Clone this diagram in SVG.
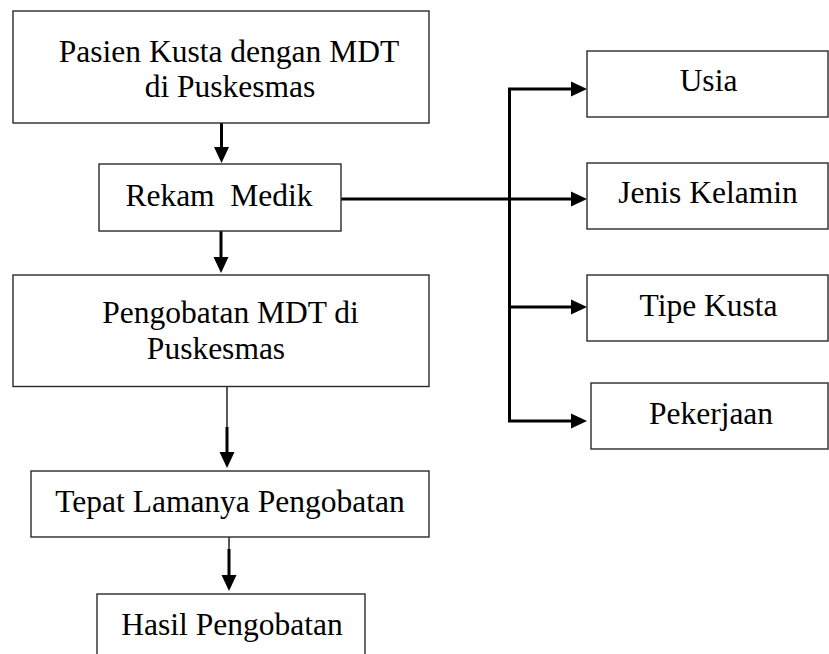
<svg xmlns="http://www.w3.org/2000/svg" width="829" height="654" viewBox="0 0 829 654">
  <style>
    .box { fill: #ffffff; stroke: #2a2a2a; stroke-width: 1.4; }
    .lbl { font-family: 'Liberation Serif', 'DejaVu Serif', serif; font-size: 31.5px; fill: #000000; text-anchor: middle; }
    .thick { stroke: #000000; stroke-width: 3; fill: none; }
    .thin { stroke: #000000; stroke-width: 1.3; fill: none; }
  </style>
  <defs>
    <marker id="ah" markerUnits="userSpaceOnUse" markerWidth="16" markerHeight="16" viewBox="0 0 16 16" refX="8" refY="8" orient="auto">
      <path d="M0,0.5 L16,8 L0,15.5 z" fill="#000000"/>
    </marker>
  </defs>
  <rect width="829" height="654" fill="#ffffff"/>

  <g id="connectors">
    <line class="thick" x1="221.5" y1="123" x2="221.5" y2="155" marker-end="url(#ah)"/>
    <line class="thick" x1="221" y1="231" x2="221" y2="265" marker-end="url(#ah)"/>
    <line class="thin" x1="227" y1="387" x2="227" y2="428"/>
    <line class="thick" x1="227" y1="427" x2="227" y2="460" marker-end="url(#ah)"/>
    <line class="thin" x1="229" y1="537" x2="229" y2="550"/>
    <line class="thick" x1="229" y1="549" x2="229" y2="583" marker-end="url(#ah)"/>
    <line class="thick" x1="341" y1="199" x2="579" y2="199" marker-end="url(#ah)"/>
    <line class="thick" x1="509.5" y1="89" x2="509.5" y2="421"/>
    <line class="thick" x1="508" y1="89" x2="579" y2="89" marker-end="url(#ah)"/>
    <line class="thick" x1="508" y1="307" x2="579" y2="307" marker-end="url(#ah)"/>
    <line class="thick" x1="508" y1="421" x2="579" y2="421" marker-end="url(#ah)"/>
  </g>

  <g id="pasien">
    <rect class="box" x="13" y="11" width="416" height="112"/>
    <text class="lbl" x="229" y="62">Pasien Kusta dengan MDT</text>
    <text class="lbl" x="230" y="97">di Puskesmas</text>
  </g>
  <g id="rekam">
    <rect class="box" x="99" y="164" width="242" height="67"/>
    <text class="lbl" x="219" y="206" xml:space="preserve">Rekam  Medik</text>
  </g>
  <g id="pengobatan">
    <rect class="box" x="13" y="275" width="416" height="111.5"/>
    <text class="lbl" x="230.5" y="323">Pengobatan MDT di</text>
    <text class="lbl" x="216" y="359">Puskesmas</text>
  </g>
  <g id="tepat">
    <rect class="box" x="31" y="471" width="398" height="66"/>
    <text class="lbl" x="230" y="512">Tepat Lamanya Pengobatan</text>
  </g>
  <g id="hasil">
    <rect class="box" x="97" y="594" width="268" height="70"/>
    <text class="lbl" x="232" y="635">Hasil Pengobatan</text>
  </g>
  <g id="usia">
    <rect class="box" x="587" y="51" width="241" height="66"/>
    <text class="lbl" x="708.5" y="91">Usia</text>
  </g>
  <g id="jenis">
    <rect class="box" x="587" y="163" width="241" height="66"/>
    <text class="lbl" x="708" y="203">Jenis Kelamin</text>
  </g>
  <g id="tipe">
    <rect class="box" x="587" y="275" width="241" height="66"/>
    <text class="lbl" x="708.5" y="316">Tipe Kusta</text>
  </g>
  <g id="pekerjaan">
    <rect class="box" x="591" y="383" width="237" height="66"/>
    <text class="lbl" x="711" y="424">Pekerjaan</text>
  </g>
</svg>
